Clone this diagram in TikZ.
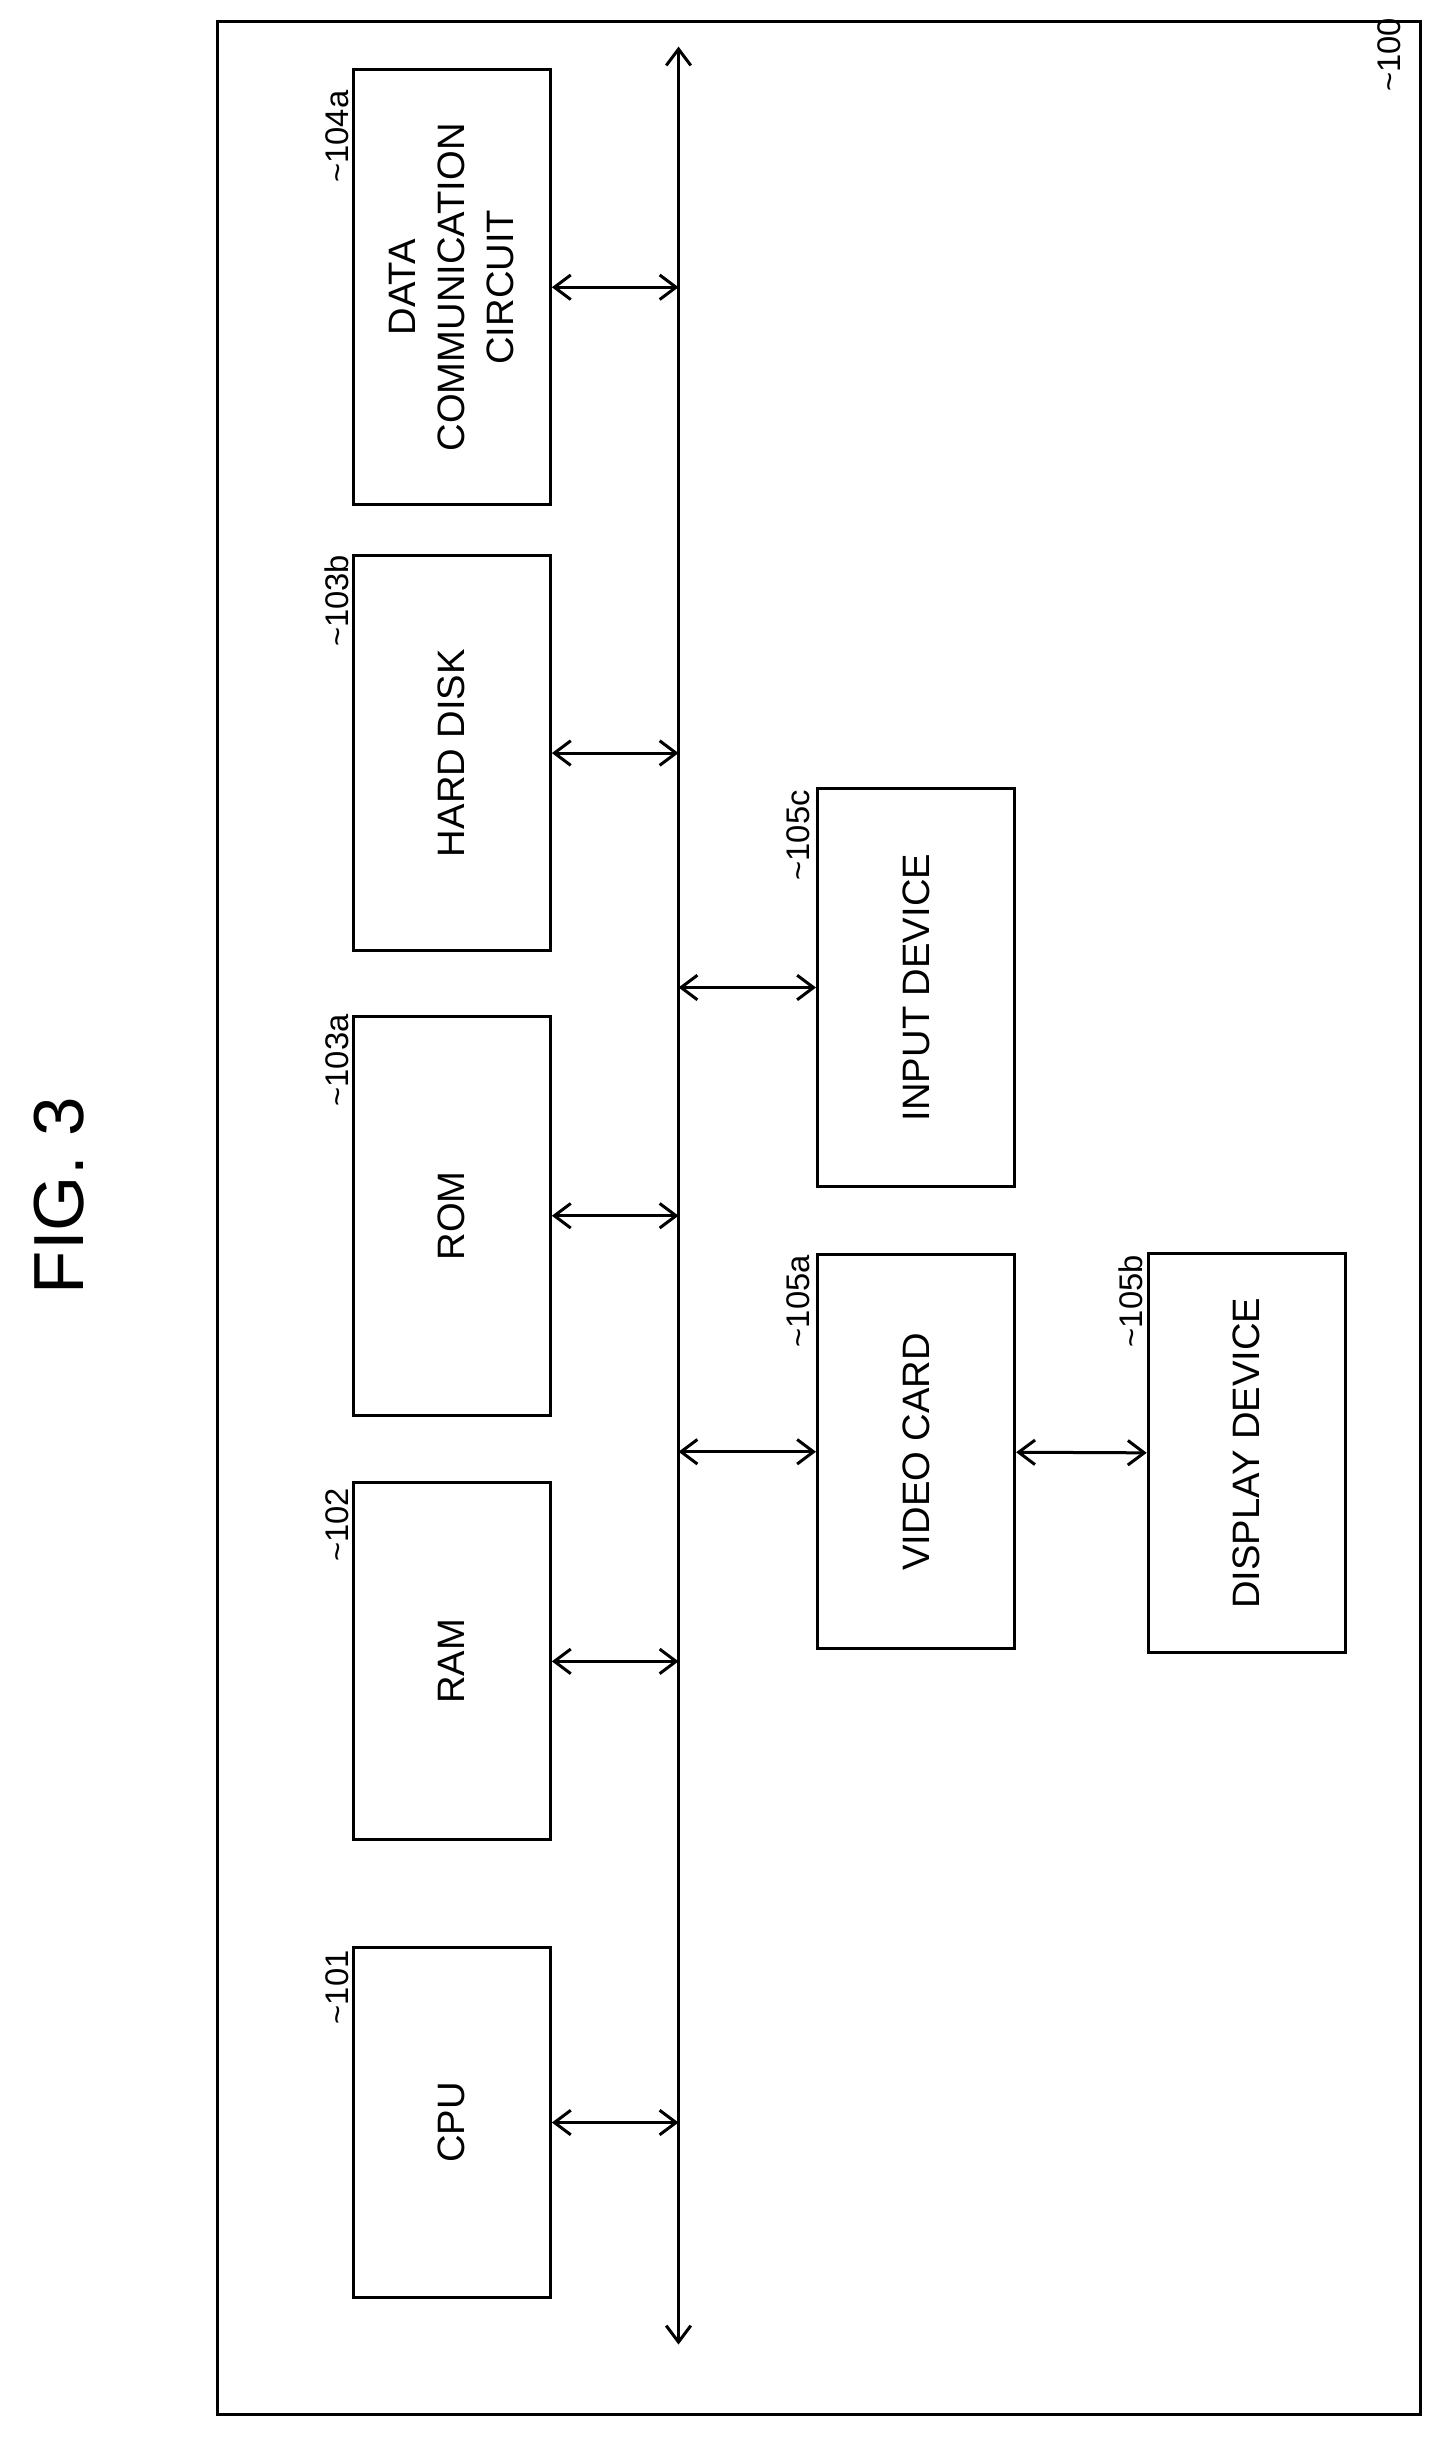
\documentclass[tikz,border=0pt]{standalone}
\usepackage{fontspec}
\setmainfont{Liberation Sans}
\usetikzlibrary{arrows.meta}

\begin{document}
\begin{tikzpicture}[
        x=0.02cm, y=-0.02cm,
        draw=black,
        line width=1.1pt,
        >={Straight Barb[length=6pt,width=9pt]},
        box/.style={draw, rotate=90, align=center, minimum height=2.54cm,
                    font=\fontsize{14}{18}\selectfont},
        tag/.style={rotate=90, font=\fontsize{12}{14}\selectfont, inner sep=0pt},
    ]
    \useasboundingbox (0,0) rectangle (930,1576);

    % frame and title
    \draw (140,14) rectangle (915,1555);
    \node[rotate=90, font=\fontsize{26}{30}\selectfont] (fig) at (38,770) {FIG. 3};
    \node[tag, anchor=west] (t100) at (895,60) {\textasciitilde100};

    % units on the bus
    \node[box, minimum width=4.5cm]  (cpu)  at (291,1367) {CPU};
    \node[box, minimum width=4.6cm]  (ram)  at (291,1070) {RAM};
    \node[box, minimum width=5.14cm] (rom)  at (291,783)  {ROM};
    \node[box, minimum width=5.08cm] (hdd)  at (291,485)  {HARD DISK};
    \node[box, minimum width=5.6cm]  (comm) at (291,185)  {DATA\\COMMUNICATION\\CIRCUIT};
    \node[box, minimum width=5.14cm] (inp)  at (590,636)  {INPUT DEVICE};
    \node[box, minimum width=5.08cm] (vid)  at (590,935)  {VIDEO CARD};
    \node[box, minimum width=5.14cm] (disp) at (803,936)  {DISPLAY DEVICE};

    \node[tag] (t101)  at (217,1280) {\textasciitilde101};
    \node[tag] (t102)  at (217,982)  {\textasciitilde102};
    \node[tag] (t103a) at (217,683)  {\textasciitilde103a};
    \node[tag] (t103b) at (217,387)  {\textasciitilde103b};
    \node[tag] (t104a) at (217,88)   {\textasciitilde104a};
    \node[tag] (t105c) at (514,538)  {\textasciitilde105c};
    \node[tag] (t105a) at (514,838)  {\textasciitilde105a};
    \node[tag] (t105b) at (728,838)  {\textasciitilde105b};

    % bus
    \coordinate (busT) at (437,30);
    \coordinate (busB) at (437,1510);
    \draw[<->] (busT) -- (busB);

    \foreach \u in {cpu, ram, rom, hdd, comm}
        \draw[<->] (\u) -- (\u -| busT);
    \foreach \u in {inp, vid}
        \draw[<->] (\u -| busT) -- (\u);
    \draw[<->] (vid) -- (disp);
\end{tikzpicture}
\end{document}
